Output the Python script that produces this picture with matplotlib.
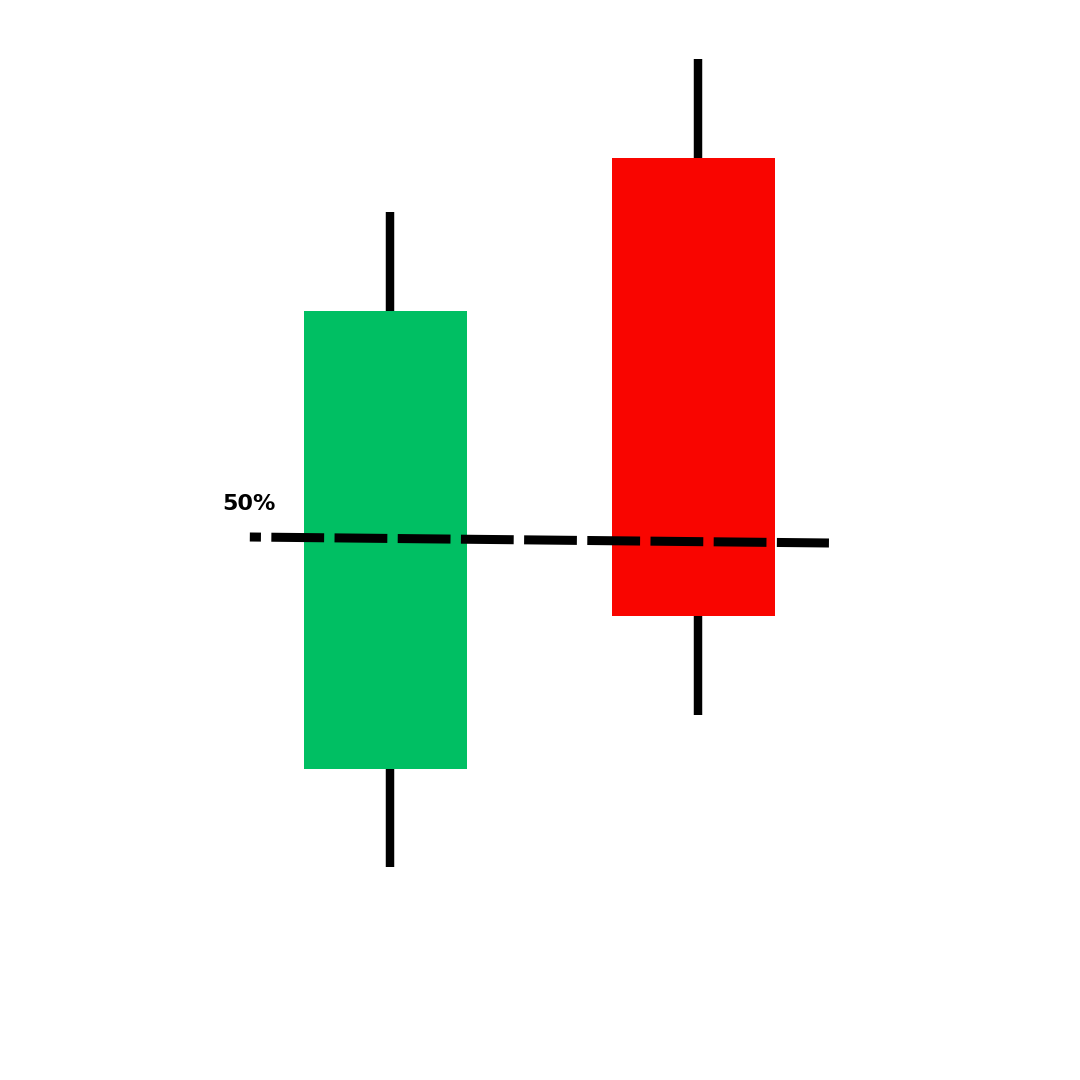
import matplotlib
matplotlib.use("Agg")
from matplotlib import pyplot as plt

# two candles: x position, open, high, low, close (price units)
xs = [0, 1]
opens = [31.1, 92.2]
highs = [86.8, 102.1]
lows = [21.3, 36.5]
closes = [76.9, 46.4]
colors = ["#00BF63", "#F90500"]

# 50% retracement of the first candle's body
mid_x = [-0.455, 1.425]
mid_y = [54.3, 53.7]
mid_label = "50%"

plt.rcParams["lines.scale_dashes"] = False

fig = plt.figure(figsize=(10.8, 10.8), dpi=100)
ax = fig.add_axes([0, 0, 1, 1])

body_w = 0.53
body_shift = -0.015  # wick sits a little right of body centre in the original
for x, o, h, l, c, col in zip(xs, opens, highs, lows, closes, colors):
    ax.vlines(x, l, h, color="black", linewidth=6.1, zorder=1)
    ax.bar(x + body_shift, abs(c - o), bottom=min(o, c), width=body_w,
           color=col, linewidth=0, zorder=2)

ax.plot(mid_x, mid_y, color="black", linewidth=6.5,
        linestyle=(30, (38, 7.5)), solid_capstyle="butt", zorder=3)
ax.text(mid_x[0] - 0.09, mid_y[0] + 3.3, mid_label, fontsize=16,
        fontweight="bold", ha="left", va="center", color="black")

ax.set_xlim(-1.266, 2.240)
ax.set_ylim(0, 108)
ax.axis("off")

fig.savefig("out.png", dpi=100, facecolor="white")
